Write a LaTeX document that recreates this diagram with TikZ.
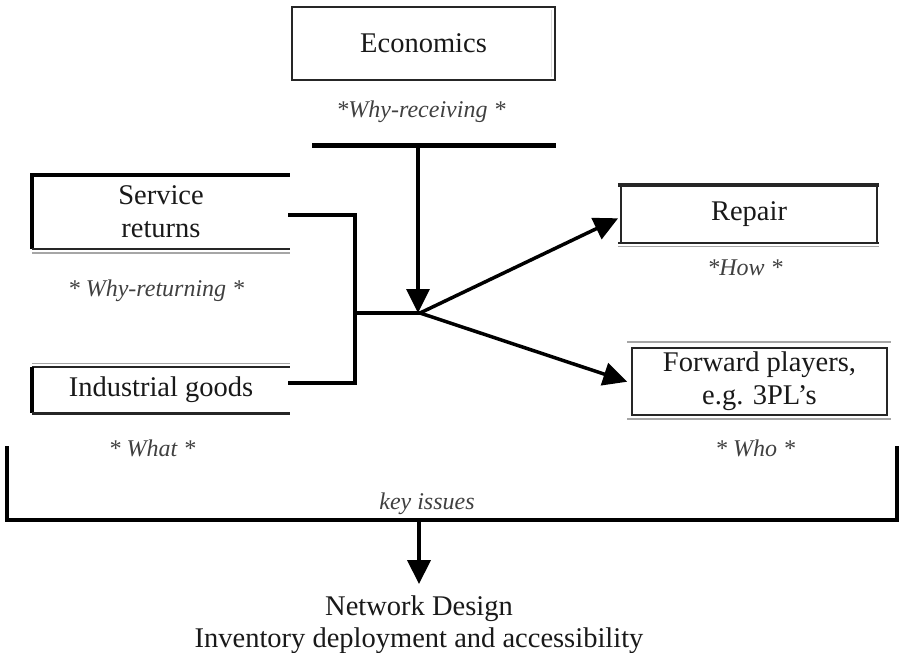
\documentclass[tikz,border=0pt]{standalone}
\usepackage{fontspec}
\setmainfont{Liberation Serif}
\usetikzlibrary{arrows.meta}
\begin{document}
\begin{tikzpicture}[x=1pt,y=-1pt,
  lbl/.style={font=\fontsize{28.5}{33}\selectfont, align=center, inner sep=0pt, text=black!90},
  note/.style={font=\fontsize{24}{28}\selectfont\itshape, inner sep=0pt, text=black!75},
  thickline/.style={line width=4pt, line cap=rect, line join=miter},
  frame/.style={line width=2pt, draw=black!85},
  heavy/.style={line width=4pt, draw=black},
  shade/.style={line width=1.5pt, draw=black!35},
  tip/.style={-{Triangle[length=24pt,width=23pt]}, line width=3.5pt},
]
\useasboundingbox (0,0) rectangle (902,653);

% ---- boxes ----
\node[lbl, draw=black!85, line width=2.5pt, minimum width=263pt, minimum height=73pt]
  (econ) at (423.5,43.5) {Economics};
\draw[shade, draw=black!15] ([xshift=-5pt,yshift=-4pt]econ.north east) -- ([xshift=-5pt,yshift=4pt]econ.south east);

\node[lbl, minimum width=258pt, minimum height=74pt] (sr) at (161,212) {Service\\returns};
\draw[heavy] (sr.south west) -- (sr.north west) -- (sr.north east);
\draw[frame] (sr.south west) -- (sr.south east);
\draw[shade] ([yshift=-4pt]sr.south west) -- ([yshift=-4pt]sr.south east);

\node[lbl, minimum width=258pt, minimum height=46pt] (ig) at (161,390) {Industrial goods};
\draw[shade] ([yshift=3.5pt]ig.north west) -- ([yshift=3.5pt]ig.north east);
\draw[frame] (ig.north west) -- (ig.north east);
\draw[heavy] (ig.north west) -- (ig.south west);
\draw[line width=3pt, draw=black!85] (ig.south west) -- (ig.south east);

\node[lbl, minimum width=256pt, minimum height=58pt] (rep) at (749,214) {Repair};
\draw[frame] (rep.north west) -- (rep.south west) (rep.north east) -- (rep.south east);
\draw[line width=3.5pt, draw=black!85] ([xshift=-3pt]rep.north west) -- ([xshift=2pt]rep.north east);
\draw[frame] ([xshift=-3pt]rep.south west) -- ([xshift=2pt]rep.south east);
\draw[shade] ([xshift=-3pt,yshift=-3.5pt]rep.south west) -- ([xshift=2pt,yshift=-3.5pt]rep.south east);

\node[lbl, frame, draw, minimum width=255pt, minimum height=67pt] (fwd) at (759.5,381.5)
  {Forward players,\\e.g. 3PL’s};
\draw[shade] ([xshift=-4pt,yshift=5pt]fwd.north west) -- ([xshift=3pt,yshift=5pt]fwd.north east);
\draw[shade] ([xshift=-4pt,yshift=-3pt]fwd.south west) -- ([xshift=3pt,yshift=-3pt]fwd.south east);

% ---- notes ----
\node[note] (n1) at (421,112) {*Why-receiving *};
\node[note] (n2) at (156,291) {* Why-returning *};
\node[note] (n3) at (152,448) {* What *};
\node[note] (n4) at (745,268) {*How *};
\node[note] (n5) at (755,448) {* Who *};
\node[note] (n6) at (427,504) {key issues};

% ---- economics bar and arrow into the hub ----
\coordinate (barL) at (312,145);
\coordinate (barR) at (556,145);
\coordinate (barM) at (418,145);
\coordinate (hub) at (420,313);
\draw[line width=5pt] (barL) -- (barR);
\draw[tip] (barM) -- (barM |- hub);

% ---- bracket joining the two inputs ----
\coordinate (brT) at (355,215);
\coordinate (brB) at (355,383);
\coordinate (brM) at (355,313);
\draw[thickline] (sr.east |- brT) -- (brT) -- (brB) -- (ig.east |- brB);
\draw[line width=3.5pt] (brM) -- (hub);

% ---- outputs ----
\draw[tip, shorten >=3pt] (hub) -- ([yshift=-3pt]rep.west);
\draw[tip, shorten >=4pt] (hub) -- ([yshift=-1.5pt]fwd.west);

% ---- key issues bracket ----
\coordinate (kTL) at (7,448);
\coordinate (kTR) at (897,448);
\coordinate (kBL) at (7,520);
\coordinate (kBR) at (897,520);
\coordinate (kM) at (419,520);
\draw[thickline] (kTL) -- (kBL) -- (kBR) -- (kTR);

% ---- result ----
\node[lbl, anchor=base] (nd) at (419,615) {Network Design};
\node[lbl, anchor=base] (inv) at (419,647) {Inventory deployment and accessibility};
\draw[tip, line width=4pt, shorten >=11pt] (kM) -- (nd.north);
\end{tikzpicture}
\end{document}
